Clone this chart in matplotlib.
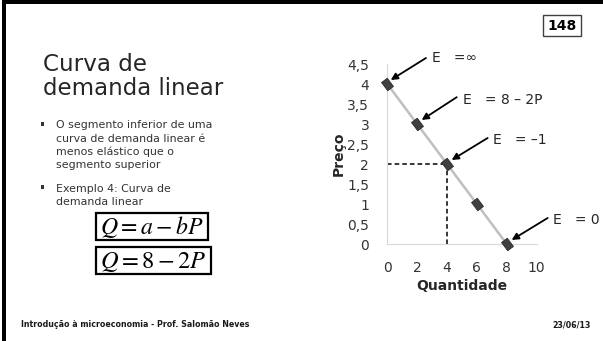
import matplotlib
matplotlib.use("Agg")
import matplotlib.pyplot as plt
from matplotlib.patches import Rectangle
from matplotlib.path import Path
import numpy as np

# ---------------- data ----------------
quantity = [0, 2, 4, 6, 8]
price = [4, 3, 2, 1, 0]
x_ticks = [0, 2, 4, 6, 8, 10]
y_ticks = [0, 0.5, 1, 1.5, 2, 2.5, 3, 3.5, 4, 4.5]
y_tick_labels = ["0", "0,5", "1", "1,5", "2", "2,5", "3", "3,5", "4", "4,5"]
ref_q, ref_p = 4, 2
ann_labels = ["E   =∞", "E   = 8 – 2P", "E   = –1", "E   = 0"]
ann_points = [(0, 4), (2, 3), (4, 2), (8, 0)]
title_lines = ["Curva de", "demanda linear"]
bullets = [["O segmento inferior de uma", "curva de demanda linear é",
            "menos elástico que o", "segmento superior"],
           ["Exemplo 4: Curva de", "demanda linear"]]
equations = [r"$Q = a - bP$", r"$Q = 8 - 2P$"]
footer_left = "Introdução à microeconomia - Prof. Salomão Neves"
footer_right = "23/06/13"
slide_number = "148"

plt.rcParams['font.family'] = ['DejaVu Sans']
plt.rcParams['mathtext.fontset'] = 'stix'

W, H = 603, 341
fig = plt.figure(figsize=(W / 100, H / 100), dpi=100)
fig.patch.set_facecolor('white')

# overlay in pixel coordinates
ov = fig.add_axes([0, 0, 1, 1])
ov.set_xlim(0, W)
ov.set_ylim(H, 0)
ov.axis('off')
renderer = fig.canvas.get_renderer()


def fit_size(s, target_w, fs0=10, **kw):
    t = ov.text(0, 0, s, fontsize=fs0, **kw)
    bb = t.get_window_extent(renderer=renderer)
    t.remove()
    return fs0 * target_w / bb.width


# slide borders
ov.add_patch(Rectangle((2, 0), W, 4, color='black', lw=0))
ov.add_patch(Rectangle((2, 0), 4, H, color='black', lw=0))

# title
dark = '#262626'
fs_t1 = fit_size(title_lines[0], 104, 18)
fs_t2 = fit_size(title_lines[1], 180, 18)
ov.text(43, 71, title_lines[0], fontsize=fs_t1, color=dark, va='baseline')
ov.text(43, 95, title_lines[1], fontsize=fs_t2, color=dark, va='baseline')

# bullets
body_col = '#333333'
fs_body = fit_size(bullets[0][0], 156, 9)
baselines = [[128.5, 141.8, 155, 168.2], [191.7, 205]]
for blines, bys in zip(bullets, baselines):
    ov.add_patch(Rectangle((40.5, bys[0] - 6.5), 3.5, 3.5, color=body_col, lw=0))
    for s, by in zip(blines, bys):
        ov.text(56, by, s, fontsize=fs_body, color=body_col, va='baseline')

# equation boxes
boxes = [(96, 213, 112, 27), (96, 247, 115, 27)]
for eq, (bx, by, bw, bh) in zip(equations, boxes):
    ov.add_patch(Rectangle((bx, by), bw, bh, fill=False, ec='black', lw=1.6))
    fs_eq = fit_size(eq, bw - 8, 15)
    ov.text(bx + bw / 2, by + bh / 2 + 1, eq, fontsize=fs_eq, ha='center',
            va='center', color='black')

# footer
fs_f = fit_size(footer_left, 230, 6, fontweight='bold')
ov.text(21, 327, footer_left, fontsize=fs_f, fontweight='bold', color='#1a1a1a',
        va='baseline')
ov.text(591, 327, footer_right, fontsize=fs_f, fontweight='bold',
        color='#1a1a1a', va='baseline', ha='right')

# slide number box
ov.add_patch(Rectangle((543, 15), 38, 21, fill=False, ec='#404040', lw=1.0))
ov.text(562, 26, slide_number, fontsize=10, fontweight='bold', ha='center',
        va='center', color='black')

# ---------------- chart ----------------
x0, x10, y0, y45 = 387.3, 536.6, 244, 64
ax = fig.add_axes([x0 / W, (H - y0) / H, (x10 - x0) / W, (y0 - y45) / H])
ax.set_facecolor('none')
ax.set_xlim(0, 10)
ax.set_ylim(0, 4.5)
for side in ['top', 'right']:
    ax.spines[side].set_visible(False)
for side in ['left', 'bottom']:
    ax.spines[side].set_color('#D9D9D9')
    ax.spines[side].set_linewidth(0.8)
ax.set_xticks(x_ticks)
ax.set_yticks(y_ticks)
ax.set_yticklabels(y_tick_labels)
ax.tick_params(length=0, labelsize=10, labelcolor='#333333')
ax.tick_params(axis='y', pad=13)
ax.tick_params(axis='x', pad=12)
ax.set_xlabel("Quantidade", fontsize=10, fontweight='bold', color='#262626',
              labelpad=3)
ax.set_ylabel("Preço", fontsize=10, fontweight='bold', color='#262626',
              labelpad=1)

# dashed reference lines
ax.plot([0, ref_q], [ref_p, ref_p], ls=(0, (3, 2)), color='black', lw=1.1,
        zorder=2)
ax.plot([ref_q, ref_q], [0, ref_p], ls=(0, (3, 2)), color='black', lw=1.1,
        zorder=2)

# rotated rectangle marker
ang = np.deg2rad(-53)
d = np.array([np.cos(ang), np.sin(ang)])
p = np.array([-d[1], d[0]])
a_, b_ = 1.0, 0.7
verts = [a_ * d + b_ * p, a_ * d - b_ * p, -a_ * d - b_ * p, -a_ * d + b_ * p,
         a_ * d + b_ * p]
mk = Path(verts, [Path.MOVETO, Path.LINETO, Path.LINETO, Path.LINETO,
                  Path.CLOSEPOLY])

ax.plot(quantity, price, color='#BFBFBF', lw=1.8, zorder=3,
        solid_capstyle='butt')
ax.plot(quantity, price, ls='none', marker=mk, ms=9, mfc='#404040',
        mec='#2a2a2a', mew=0.6, zorder=4, clip_on=False)

# annotations
text_pos = [(2.97, 4.65), (5.09, 3.6), (7.10, 2.6), (11.1, 0.6)]
tail_pos = [(2.59, 4.65), (4.65, 3.67), (6.72, 2.65), (10.74, 0.65)]
head_off = [(0.23, 4.1), (2.30, 3.1), (4.31, 2.1), (8.33, 0.1)]
for lab, tp, tl, hd in zip(ann_labels, text_pos, tail_pos, head_off):
    ax.text(tp[0], tp[1], lab, fontsize=10, color='#262626', va='center',
            ha='left', clip_on=False)
    ax.annotate("", xy=hd, xytext=tl,
                arrowprops=dict(arrowstyle='-|>', color='black', lw=1.3,
                                mutation_scale=10, shrinkA=0, shrinkB=0),
                annotation_clip=False)

fig.savefig("out.png", dpi=100)
